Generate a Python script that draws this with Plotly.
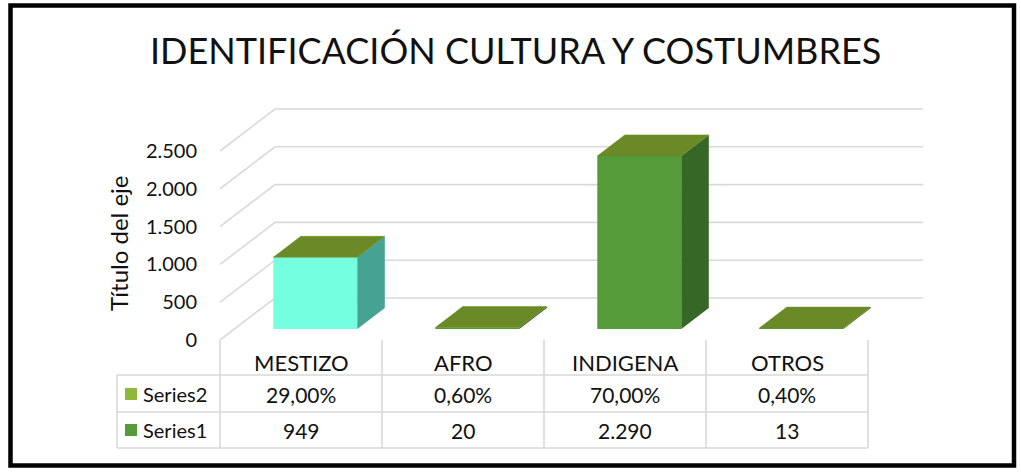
import plotly.graph_objects as go

# ---------------- data ----------------
categories = ["MESTIZO", "AFRO", "INDIGENA", "OTROS"]
series1 = [949, 20, 2290, 13]
series2 = [0.29, 0.006, 0.70, 0.004]          # shown as percentages
series1_labels = ["949", "20", "2.290", "13"]
series2_labels = ["29,00%", "0,60%", "70,00%", "0,40%"]
tick_vals = [0, 500, 1000, 1500, 2000, 2500]
front_colors = ["#74FFDF", "#559B3A", "#559B3A", "#559B3A"]
side_colors = ["#47A391", "#376726", "#376726", "#376726"]
top_color = "#6A8A27"
title_text = "IDENTIFICACIÓN CULTURA Y COSTUMBRES"
ytitle_text = "Título del eje"

# ---------------- geometry ----------------
W, H = 1021, 476
L, R, T, B = 220, 96, 100, 136
PW, PH = W - L - R, H - T - B
COLW = 162.0                   # px per category
KY = 37.8 / 500.0              # px per unit
XR = [-0.5, -0.5 + PW / COLW]
YR = [0, PH / KY]
DX = 55 / COLW                 # depth shift (x units) at the back wall
DY = 42 / KY                   # depth shift (y units) at the back wall
D1, D2 = 0.26, 0.76            # bar depth span
BW = 84 / COLW
FONT = "Lato"
GRID = "#D9D9D9"
TXT = "#111111"


def px(xp):
    return (xp - L) / PW


def py(yp):
    return (H - B - yp) / PH


fig = go.Figure()

# back wall grid lines + left diagonal
for v in tick_vals:
    fig.add_trace(go.Scatter(
        x=[-0.5, -0.5 + DX, 3.5 + DX],
        y=[v, v + DY, v + DY],
        mode="lines", line=dict(color=GRID, width=1.6),
        hoverinfo="skip", showlegend=False))

# bars
for i, (v1, v2) in enumerate(zip(series1, series2)):
    top = v1 + v2
    xl, xr = i - BW / 2, i + BW / 2
    # front
    fig.add_trace(go.Scatter(
        x=[xl + D1 * DX, xr + D1 * DX, xr + D1 * DX, xl + D1 * DX, xl + D1 * DX],
        y=[D1 * DY, D1 * DY, D1 * DY + top, D1 * DY + top, D1 * DY],
        mode="lines", fill="toself", fillcolor=front_colors[i],
        line=dict(width=0, color=front_colors[i]),
        hoverinfo="skip", showlegend=False))
    # right side
    fig.add_trace(go.Scatter(
        x=[xr + D1 * DX, xr + D2 * DX, xr + D2 * DX, xr + D1 * DX, xr + D1 * DX],
        y=[D1 * DY, D2 * DY, D2 * DY + top, D1 * DY + top, D1 * DY],
        mode="lines", fill="toself", fillcolor=side_colors[i],
        line=dict(width=0, color=side_colors[i]),
        hoverinfo="skip", showlegend=False))
    # top
    fig.add_trace(go.Scatter(
        x=[xl + D1 * DX, xr + D1 * DX, xr + D2 * DX, xl + D2 * DX, xl + D1 * DX],
        y=[D1 * DY + top, D1 * DY + top, D2 * DY + top, D2 * DY + top, D1 * DY + top],
        mode="lines", fill="toself", fillcolor=top_color,
        line=dict(width=0.5, color=top_color),
        hoverinfo="skip", showlegend=False))

shapes = []
annotations = []

# ---- data table ----
tbl_left = 117
col_edges = [i - 0.5 for i in range(len(categories) + 1)]
col_px = [L + (e - XR[0]) * COLW for e in col_edges]
row_lines = [375, 412, 448]
for yl in row_lines:
    shapes.append(dict(type="line", xref="paper", yref="paper",
                       x0=px(tbl_left), x1=px(col_px[-1]), y0=py(yl), y1=py(yl),
                       line=dict(color=GRID, width=1.6)))
shapes.append(dict(type="line", xref="paper", yref="paper",
                   x0=px(tbl_left), x1=px(tbl_left), y0=py(375), y1=py(448),
                   line=dict(color=GRID, width=1.6)))
for cp in col_px:
    shapes.append(dict(type="line", xref="paper", yref="paper",
                       x0=px(cp), x1=px(cp), y0=py(340), y1=py(448),
                       line=dict(color=GRID, width=1.6)))

for i, c in enumerate(categories):
    cx = (col_px[i] + col_px[i + 1]) / 2
    annotations.append(dict(x=px(cx), y=py(362), xref="paper", yref="paper",
                            text=c, showarrow=False, xanchor="center", yanchor="middle",
                            font=dict(family=FONT, size=22, color=TXT)))
    annotations.append(dict(x=px(cx), y=py(394), xref="paper", yref="paper",
                            text=series2_labels[i], showarrow=False,
                            xanchor="center", yanchor="middle",
                            font=dict(family=FONT, size=21, color=TXT)))
    annotations.append(dict(x=px(cx), y=py(430), xref="paper", yref="paper",
                            text=series1_labels[i], showarrow=False,
                            xanchor="center", yanchor="middle",
                            font=dict(family=FONT, size=21, color=TXT)))

legend_rows = [("Series2", "#8DB83A", 394), ("Series1", "#559B3A", 430)]
for name, col, yc in legend_rows:
    shapes.append(dict(type="rect", xref="paper", yref="paper",
                       x0=px(125), x1=px(137), y0=py(yc - 6), y1=py(yc + 6),
                       fillcolor=col, line=dict(width=0)))
    annotations.append(dict(x=px(141), y=py(yc), xref="paper", yref="paper",
                            text=name, showarrow=False, xanchor="left", yanchor="middle",
                            font=dict(family=FONT, size=20, color=TXT)))

# title and axis title
annotations.append(dict(x=px(515), y=py(50), xref="paper", yref="paper",
                        text=title_text, showarrow=False, xanchor="center", yanchor="middle",
                        font=dict(family=FONT, size=36, color=TXT)))
annotations.append(dict(x=px(118), y=py(244), xref="paper", yref="paper",
                        text=ytitle_text, showarrow=False, textangle=-90,
                        xanchor="center", yanchor="middle",
                        font=dict(family=FONT, size=24, color=TXT)))

# outer border
shapes.append(dict(type="rect", xref="paper", yref="paper",
                   x0=px(10.5), x1=px(1014), y0=py(5.5), y1=py(465.5),
                   line=dict(color="black", width=4.5), fillcolor="rgba(0,0,0,0)"))

fig.update_layout(
    width=W, height=H,
    margin=dict(l=L, r=R, t=T, b=B, autoexpand=False),
    paper_bgcolor="white", plot_bgcolor="white",
    separators=",.",
    showlegend=False,
    shapes=shapes, annotations=annotations,
    xaxis=dict(range=XR, visible=False, fixedrange=True),
    yaxis=dict(range=YR, tickvals=tick_vals, tickformat=",d", showgrid=False,
               zeroline=False, showline=False, ticks="outside", ticklen=18,
               tickcolor="rgba(0,0,0,0)", automargin=False,
               tickfont=dict(family=FONT, size=20, color=TXT), fixedrange=True),
)

fig.write_html("out.html", config={"displayModeBar": False},
               post_script="document.body.style.margin='0';document.body.style.overflow='hidden';")
